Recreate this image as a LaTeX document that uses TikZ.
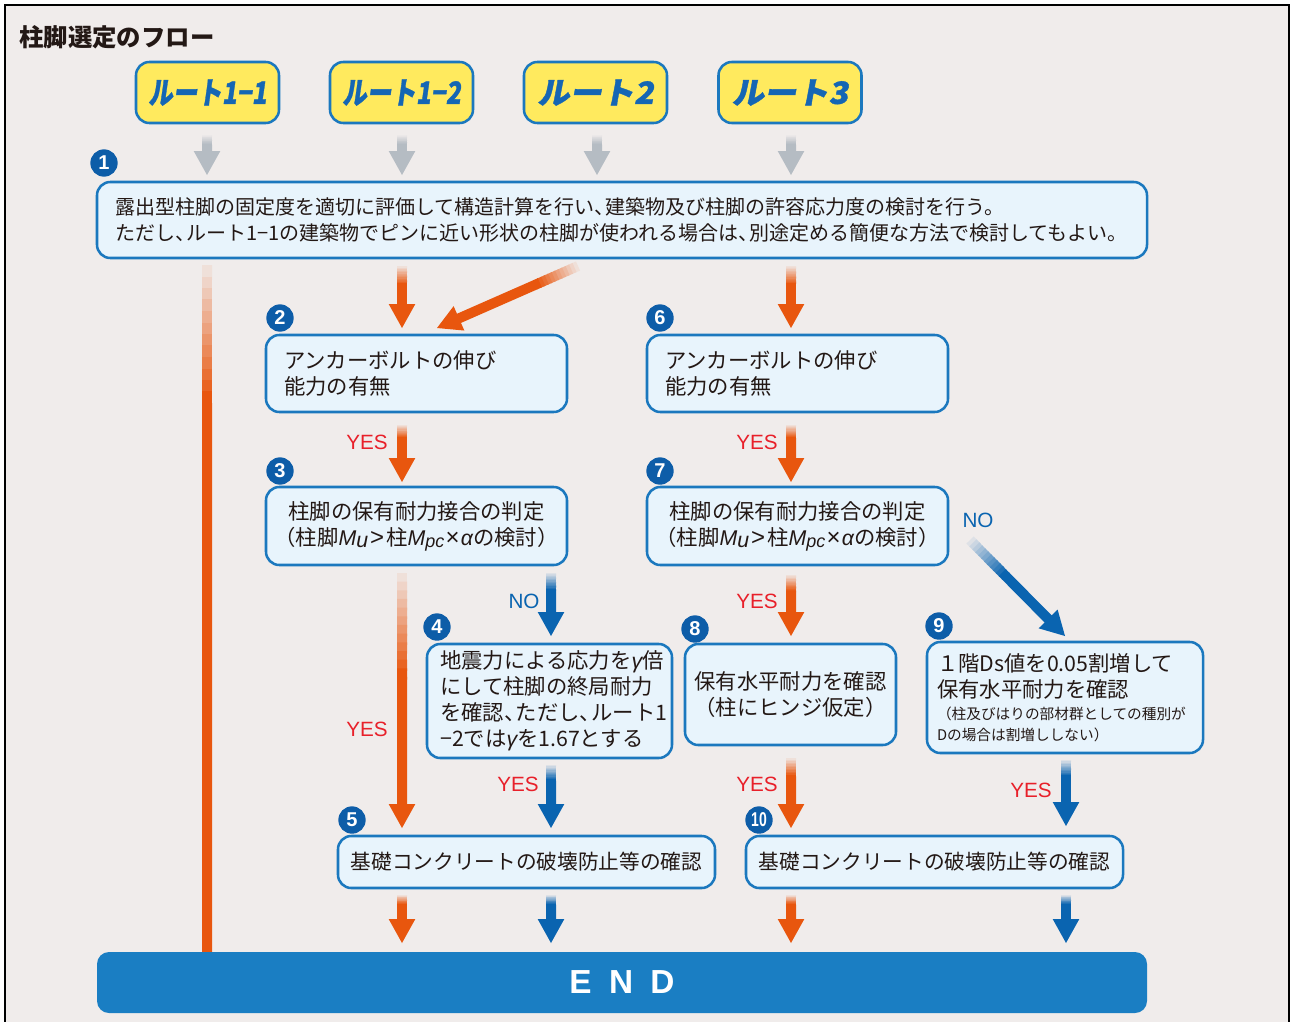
\documentclass[tikz,border=0pt]{standalone}
\usepackage{fontspec}
\usetikzlibrary{arrows.meta,calc}
\newfontfamily\jp{Noto Sans CJK JP}
\newfontfamily\routefont[FakeSlant=0.18,BoldFeatures={FakeBold=1.2}]{Noto Sans CJK JP}
\newfontfamily\lat{Liberation Sans}
\newcommand\mi[1]{{\lat\itshape #1}}
\newcommand\tc{\makebox[0.55em][l]{、}}
\newcommand\cmpexpr{\mi{M\raisebox{-1.5pt}{u}}\hspace{1.5pt}{\lat\fontsize{18}{18}\selectfont >}\hspace{1.5pt}柱\mi{M\raisebox{-1.5pt}{\fontsize{13.5}{13.5}\selectfont pc}}\hspace{1pt}{\lat\fontsize{18}{18}\selectfont ×}\hspace{1pt}\mi{α}}
\definecolor{bgc}{HTML}{F0ECEB}
\definecolor{boxfill}{HTML}{E8F4FC}
\definecolor{boxblue}{HTML}{1B78BE}
\definecolor{numblue}{HTML}{0D5DA8}
\definecolor{orangeA}{HTML}{E8560E}
\definecolor{blueA}{HTML}{0A64B0}
\definecolor{grayA}{HTML}{B5BCC3}
\definecolor{yellowA}{HTML}{FFEA5E}
\definecolor{routeblue}{HTML}{1566B4}
\definecolor{yesred}{HTML}{E8202A}
\definecolor{endblue}{HTML}{1A7EC3}
\definecolor{txt}{HTML}{231815}
% fading arrow: #1 from, #2 to, #3 colour, #4 fade fraction
\newcommand\farrow[4]{%
  \coordinate (hb) at ($(#2)!18pt!(#1)$);
  \foreach \i in {0,...,11}{%
    \pgfmathsetmacro\ta{\i/12*#4}%
    \pgfmathsetmacro\tb{(\i+1.3)/12*#4}%
    \pgfmathtruncatemacro\mx{8+92*\i/11}%
    \draw[line width=7.5pt, draw=#3!\mx!bgc] ($(#1)!\ta!(hb)$) -- ($(#1)!\tb!(hb)$);
  }%
  \draw[line width=7.5pt, draw=#3] ($(#1)!#4!(hb)$) -- ($(hb)!0.5pt!(#2)$);
  \fill[#3] (#2) -- ($(hb)!10pt!90:(#2)$) -- ($(hb)!10pt!-90:(#2)$) -- cycle;
}
% fading line without head
\newcommand\fline[4]{%
  \foreach \i in {0,...,11}{%
    \pgfmathsetmacro\ta{\i/12*#4}%
    \pgfmathsetmacro\tb{(\i+1.3)/12*#4}%
    \pgfmathtruncatemacro\mx{8+92*\i/11}%
    \draw[line width=7.5pt, draw=#3!\mx!bgc] ($(#1)!\ta!(#2)$) -- ($(#1)!\tb!(#2)$);
  }%
  \draw[line width=7.5pt, draw=#3] ($(#1)!#4!(#2)$) -- (#2);
}
\begin{document}
\begin{tikzpicture}[x=0.75pt,y=-0.75pt,
  box/.style={draw=boxblue, line width=1.9pt, fill=boxfill, rounded corners=10pt,
    font=\jp\fontsize{16}{19.5}\selectfont, text=txt, inner ysep=4pt},
  routebox/.style={draw=boxblue, line width=1.9pt, fill=yellowA, rounded corners=10pt,
    minimum width=107.25pt, minimum height=45.75pt, inner sep=0pt,
    font=\routefont\bfseries\fontsize{23}{23}\selectfont, text=routeblue},
  numc/.style={circle, fill=numblue, text=white, minimum size=20.5pt, inner sep=0pt,
    font=\lat\bfseries\fontsize{15}{15}\selectfont},
  yes/.style={text=yesred, font=\lat\fontsize{15.5}{16}\selectfont, inner sep=0pt},
  no/.style={text=blueA, font=\lat\fontsize{15.5}{16}\selectfont, inner sep=0pt},
]
\useasboundingbox (0,0) rectangle (1291,1021);
\fill[bgc] (5,5) rectangle (1289,1030);
\draw[black, line width=1pt] (5,1030) -- (5,5) -- (1289,5) -- (1289,1030);

% title
\node[anchor=west, inner sep=0pt, font=\jp\bfseries\fontsize{18.3}{19}\selectfont, text=txt] (title) at (19,37) {柱脚選定のフロー};

% route boxes
\node[routebox] (r1) at (207.5,92.5) {\scalebox{0.8}[1]{ルート1−1}};
\node[routebox] (r2) at (401.5,92.5) {\scalebox{0.8}[1]{ルート1−2}};
\node[routebox] (r3) at (595.5,92.5) {\scalebox{1.05}[1]{ルート2}};
\node[routebox] (r4) at (790,92.5) {\scalebox{1.05}[1]{ルート3}};

% coordinates for arrows
\foreach \n/\x in {1/207,2/402,3/597,4/791}{
  \coordinate (g\n s) at (\x,135);
  \coordinate (g\n e) at (\x,175);
}
\foreach \n in {1,2,3,4}{\farrow{g\n s}{g\n e}{grayA}{0.6}}

% node 1
\node[box, minimum width=787.5pt, minimum height=57pt, text width=760.5pt, inner xsep=13.5pt, align=left,
  font=\jp\fontsize{15}{20}\selectfont] (n1) at (622,220)
  {露出型柱脚の固定度を適切に評価して構造計算を行い\tc 建築物及び柱脚の許容応力度の検討を行う。\\
   ただし\tc ルート1−1の建築物でピンに近い形状の柱脚が使われる場合は\tc 別途定める簡便な方法で検討してもよい。};
\node[numc] (c1) at (104,163) {1};

% long line to END
\coordinate (L1) at (207,265);
\coordinate (L2) at (207,955);
\fline{L1}{L2}{orangeA}{0.2}

% arrows from n1
\coordinate (a2s) at (402,266); \coordinate (a2e) at (402,328);
\coordinate (a3s) at (578,266); \coordinate (a3e) at (437,328);
\coordinate (a4s) at (791,266); \coordinate (a4e) at (791,328);
\farrow{a2s}{a2e}{orangeA}{0.5}
\farrow{a3s}{a3e}{orangeA}{0.35}
\farrow{a4s}{a4e}{orangeA}{0.5}

% nodes 2 and 6
\node[box, minimum width=225.75pt, minimum height=57.75pt, text width=198.75pt, inner xsep=13.5pt, align=left] (n2) at (416.5,373.5)
  {アンカーボルトの伸び\\能力の有無};
\node[numc] (c2) at (280,318) {2};
\node[box, minimum width=225.75pt, minimum height=57.75pt, text width=198.75pt, inner xsep=13.5pt, align=left] (n6) at (797.5,373.5)
  {アンカーボルトの伸び\\能力の有無};
\node[numc] (c6) at (660,318) {6};

% YES arrows to 3 and 7
\coordinate (a5s) at (402,425); \coordinate (a5e) at (402,482);
\coordinate (a6s) at (791,425); \coordinate (a6e) at (791,482);
\farrow{a5s}{a5e}{orangeA}{0.4}
\farrow{a6s}{a6e}{orangeA}{0.4}
\node[yes] (y1) at (367,442) {YES};
\node[yes] (y2) at (757,442) {YES};

% nodes 3 and 7
\node[box, minimum width=225.75pt, minimum height=58.5pt, text width=214pt, inner xsep=5pt, align=center] (n3) at (416.5,526)
  {柱脚の保有耐力接合の判定\\（柱脚\cmpexpr の検討）};
\node[numc] (c3) at (280,471) {3};
\node[box, minimum width=225.75pt, minimum height=58.5pt, text width=214pt, inner xsep=5pt, align=center] (n7) at (797.5,526)
  {柱脚の保有耐力接合の判定\\（柱脚\cmpexpr の検討）};
\node[numc] (c7) at (660,471) {7};

% arrows below 3 and 7
\coordinate (a7s) at (402,573); \coordinate (a7e) at (402,828);
\coordinate (b1s) at (551,573); \coordinate (b1e) at (551,636);
\coordinate (a8s) at (791,575); \coordinate (a8e) at (791,636);
\coordinate (b2s) at (970,540); \coordinate (b2e) at (1065,636);
\farrow{a7s}{a7e}{orangeA}{0.45}
\farrow{b1s}{b1e}{blueA}{0.45}
\farrow{a8s}{a8e}{orangeA}{0.45}
\farrow{b2s}{b2e}{blueA}{0.45}
\node[yes] (y3) at (367,729) {YES};
\node[no] (no1) at (524,601) {NO};
\node[yes] (y4) at (757,601) {YES};
\node[no] (no2) at (978,520) {NO};

% node 4
\node[box, minimum width=183.75pt, minimum height=85.5pt, text width=164pt, inner xsep=9.75pt, align=left] (n4) at (549.5,701)
  {地震力による応力を\mi{γ}倍\\にして柱脚の終局耐力\\を確認\tc ただし\tc ルート1\\−2では\mi{γ}を1.67とする};
\node[numc] (c4) at (437,627) {4};

% node 8
\node[box, minimum width=158.25pt, minimum height=75.75pt, text width=150pt, inner xsep=4pt, align=center] (n8) at (790.5,694.5)
  {保有水平耐力を確認\\（柱にヒンジ仮定）};
\node[numc] (c8) at (695,629) {8};

% node 9
\node[box, minimum width=207pt, minimum height=83.25pt, text width=192pt, inner xsep=7.5pt, align=left] (n9) at (1065,697.5)
  {１階Ds値を0.05割増して\\保有水平耐力を確認\\[-3pt]
   {\fontsize{11}{15}\selectfont （柱及びはりの部材群としての種別が}\\[-4pt]
   {\fontsize{11}{15}\selectfont Dの場合は割増ししない）}};
\node[numc] (c9) at (939,626) {9};

% YES arrows to 5 and 10
\coordinate (b3s) at (551,765); \coordinate (b3e) at (551,828);
\coordinate (a9s) at (791,758); \coordinate (a9e) at (791,828);
\coordinate (b4s) at (1066,760); \coordinate (b4e) at (1066,826);
\farrow{b3s}{b3e}{blueA}{0.4}
\farrow{a9s}{a9e}{orangeA}{0.4}
\farrow{b4s}{b4e}{blueA}{0.4}
\node[yes] (y5) at (518,784) {YES};
\node[yes] (y6) at (757,784) {YES};
\node[yes] (y7) at (1031,790) {YES};

% nodes 5 and 10
\node[box, minimum width=282.75pt, minimum height=39pt, inner xsep=4pt, font=\jp\fontsize{15.5}{18}\selectfont] (n5) at (526.5,862)
  {基礎コンクリートの破壊防止等の確認};
\node[numc] (c5) at (352,820) {5};
\node[box, minimum width=282.75pt, minimum height=39pt, inner xsep=4pt, font=\jp\fontsize{15.5}{18}\selectfont] (n10) at (934.5,862)
  {基礎コンクリートの破壊防止等の確認};
\node[numc] (c10) at (759,820) {\scalebox{0.7}[1]{10}};

% arrows to END
\coordinate (e1s) at (402,895); \coordinate (e1e) at (402,943);
\coordinate (e2s) at (551,895); \coordinate (e2e) at (551,943);
\coordinate (e3s) at (791,895); \coordinate (e3e) at (791,943);
\coordinate (e4s) at (1066,895); \coordinate (e4e) at (1066,943);
\farrow{e1s}{e1e}{orangeA}{0.4}
\farrow{e2s}{e2e}{blueA}{0.4}
\farrow{e3s}{e3e}{orangeA}{0.4}
\farrow{e4s}{e4e}{blueA}{0.4}

% END bar
\node[fill=endblue, rounded corners=9pt, minimum width=787.5pt, minimum height=45.75pt, inner sep=0pt,
  text=white, font=\lat\bfseries\fontsize{25}{25}\selectfont] (end) at (622,982.5)
  {E\hspace{13pt}N\hspace{13pt}D};
\end{tikzpicture}
\end{document}
